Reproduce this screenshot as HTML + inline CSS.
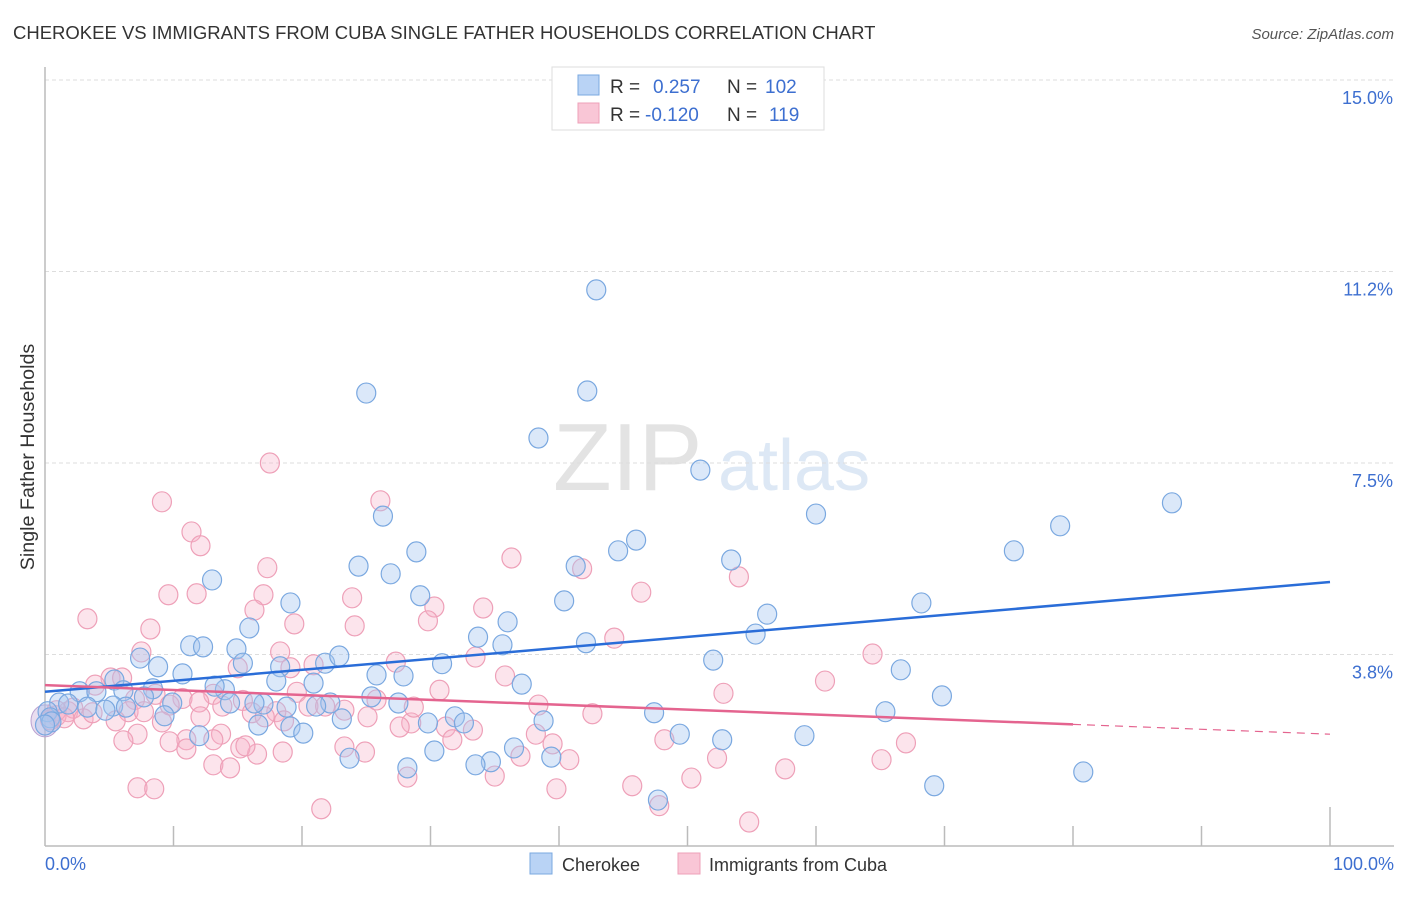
<!DOCTYPE html>
<html><head><meta charset="utf-8"><style>
body{margin:0;background:#fff;font-family:"Liberation Sans",sans-serif;}
svg text{font-family:"Liberation Sans",sans-serif;}
</style></head><body>
<svg width="1406" height="892" viewBox="0 0 1406 892" xmlns="http://www.w3.org/2000/svg">
<text x="13" y="39" font-size="18.5" fill="#333">CHEROKEE VS IMMIGRANTS FROM CUBA SINGLE FATHER HOUSEHOLDS CORRELATION CHART</text>
<text x="1394" y="39" font-size="15" fill="#555" font-style="italic" text-anchor="end">Source: ZipAtlas.com</text>
<g>
<text x="553" y="490" font-size="96" fill="#e3e3e3" font-family="Liberation Serif,serif">ZIP</text>
<text x="718" y="490" font-size="72" fill="#dde8f5">atlas</text>
</g>
<g id="grid"></g>
<g id="axes"></g>
<g id="pts"></g>
<g id="lines"></g>
<text transform="translate(34,457) rotate(-90)" font-size="19.7" fill="#333" text-anchor="middle">Single Father Households</text>
<text x="45" y="870" font-size="18" fill="#3d6fd0">0.0%</text>
<text x="1394" y="870" font-size="18" fill="#3d6fd0" text-anchor="end">100.0%</text>
<g>
<rect x="552" y="67" width="272" height="63" fill="#fff" stroke="#ddd"/>
<rect x="578" y="75" width="21" height="20" fill="#b9d3f5" stroke="#7aa8e0"/>
<rect x="578" y="103" width="21" height="20" fill="#f9c6d6" stroke="#eea0b8"/>
<text x="610" y="93" font-size="19" fill="#333">R = <tspan x="653" fill="#3d6fd0">0.257</tspan><tspan x="727" fill="#333">N = </tspan><tspan x="765" fill="#3d6fd0">102</tspan></text>
<text x="610" y="121" font-size="19" fill="#333">R = <tspan x="645" fill="#3d6fd0">-0.120</tspan><tspan x="727" fill="#333">N = </tspan><tspan x="769" fill="#3d6fd0">119</tspan></text>
</g>
<g>
<rect x="530" y="853" width="22" height="21" fill="#b9d3f5" stroke="#7aa8e0"/>
<text x="562" y="871" font-size="18" fill="#333">Cherokee</text>
<rect x="678" y="853" width="22" height="21" fill="#f9c6d6" stroke="#eea0b8"/>
<text x="709" y="871" font-size="18" fill="#333">Immigrants from Cuba</text>
</g>
</svg>
<script>
const yTicks=[15,11.25,7.5,3.75];
const yTickLabels=["15.0%","11.2%","7.5%","3.8%"];
const xTicks=[10,20,30,40,50,60,70,80,90,100];
const blueX=[42.9,42.2,25.0,38.4,51.0,87.7,60.0,26.3,79.0,28.9,44.6,46.0,53.4,75.4,24.4,26.9,41.3,13.0,29.2,40.4,19.1,56.2,68.2,36.0,15.9,55.3,33.7,35.6,42.1,11.3,12.3,14.9,7.4,8.8,15.4,52.0,30.9,21.8,22.9,18.3,25.8,10.7,27.9,66.6,5.4,18.0,20.9,37.1,69.8,8.4,2.7,4.0,6.1,14.0,9.9,13.2,25.4,27.5,7.7,17.0,16.3,22.2,21.1,18.8,5.3,1.1,1.8,3.3,6.3,14.4,47.4,65.4,9.3,4.7,23.1,29.8,31.9,32.6,38.8,19.1,16.6,20.1,12.0,49.4,52.7,59.1,30.3,39.4,36.5,34.7,33.5,23.7,28.2,80.8,69.2,47.7,0.2,0.4,0.5,0.0];
const blueY=[10.89,8.91,8.87,7.99,7.36,6.72,6.50,6.46,6.27,5.76,5.78,5.99,5.60,5.78,5.48,5.33,5.48,5.21,4.90,4.80,4.76,4.54,4.76,4.39,4.27,4.15,4.09,3.94,3.98,3.92,3.90,3.86,3.68,3.51,3.58,3.64,3.57,3.58,3.72,3.51,3.35,3.37,3.33,3.45,3.25,3.23,3.19,3.17,2.94,3.08,3.02,3.02,3.04,3.06,2.80,3.13,2.92,2.80,2.92,2.78,2.80,2.80,2.74,2.72,2.74,2.80,2.78,2.72,2.72,2.80,2.61,2.63,2.55,2.66,2.49,2.41,2.53,2.41,2.45,2.33,2.37,2.21,2.16,2.19,2.08,2.16,1.86,1.74,1.92,1.65,1.59,1.72,1.53,1.45,1.18,0.90,2.63,2.51,2.43,2.37];
const pinkX=[17.5,9.1,26.1,11.4,12.1,36.3,41.8,17.3,54.0,9.6,11.8,23.9,17.0,46.4,3.3,16.3,30.3,34.1,19.4,29.8,24.1,44.3,8.2,64.4,7.5,18.3,27.3,33.5,35.8,20.9,60.7,15.0,19.1,5.1,6.0,3.9,52.8,30.7,19.6,8.6,13.1,15.4,10.7,7.0,12.0,38.4,6.5,13.8,20.5,23.3,21.8,9.7,16.1,18.0,7.7,1.8,2.2,0.9,3.0,3.7,5.5,28.5,25.1,42.6,18.6,31.2,33.3,27.6,9.1,7.2,11.0,6.1,9.7,13.7,31.7,39.5,48.2,67.0,23.3,24.9,18.5,16.5,13.1,15.2,11.0,15.6,0.9,1.5,0.4,65.1,52.3,40.8,37.0,28.2,35.0,50.3,57.6,13.1,14.4,45.7,39.8,47.8,7.2,8.5,21.5,54.8,38.2,25.8,28.7,17.1,12.1];
const pinkY=[7.50,6.74,6.76,6.15,5.88,5.64,5.43,5.45,5.27,4.92,4.94,4.86,4.92,4.97,4.45,4.62,4.68,4.66,4.35,4.41,4.31,4.07,4.25,3.76,3.80,3.80,3.60,3.70,3.33,3.55,3.23,3.49,3.49,3.29,3.29,3.15,2.99,3.05,3.01,2.97,2.97,2.85,2.89,2.87,2.82,2.76,2.63,2.74,2.74,2.66,2.74,2.76,2.61,2.63,2.63,2.63,2.70,2.55,2.49,2.61,2.45,2.41,2.53,2.59,2.45,2.33,2.27,2.33,2.43,2.19,2.08,2.06,2.04,2.19,2.08,2.00,2.08,2.02,1.94,1.84,1.84,1.80,2.08,1.92,1.90,1.96,2.65,2.51,2.47,1.69,1.72,1.69,1.76,1.35,1.37,1.33,1.51,1.59,1.53,1.18,1.12,0.79,1.14,1.12,0.73,0.47,2.19,2.86,2.72,2.53,2.53];
const blueTrend=[3.02,5.17];
const pinkTrend=[3.15,2.19];
const pinkSolidEnd=80;

const NS="http://www.w3.org/2000/svg";
const X0=45,X1=1330,Y15=80,Y0=846;
function sx(v){return X0+(X1-X0)*v/100;}
function sy(v){return Y0-(Y0-Y15)*v/15;}
function mk(tag,attrs,parent){const e=document.createElementNS(NS,tag);for(const k in attrs)e.setAttribute(k,attrs[k]);parent.appendChild(e);return e;}
const grid=document.getElementById('grid'),axes=document.getElementById('axes'),pts=document.getElementById('pts'),lines=document.getElementById('lines');
yTicks.forEach((t,i)=>{
  const l=mk('line',{x1:X0,x2:1394,y1:sy(t),y2:sy(t),stroke:'#ddd','stroke-dasharray':'4,3'},grid);
  
  
  const tx=mk('text',{x:1393,y:sy(t)+24,'font-size':18,fill:'#3d6fd0','text-anchor':'end'},grid);
  tx.textContent=yTickLabels[i];
  
  
});
let a=mk('line',{x1:X0,x2:X0,y1:67,y2:Y0,stroke:'#bbb','stroke-width':1.5},axes);


a=mk('line',{x1:X0,x2:1394,y1:Y0,y2:Y0,stroke:'#bbb','stroke-width':1.5},axes);


xTicks.forEach(t=>{
  const l=mk('line',{x1:sx(t),x2:sx(t),y1:t===100?807:826,y2:Y0,stroke:'#bbb','stroke-width':1.5},axes);
  
  
});
function dots(xs,ys,fill,stroke,name){
  xs.forEach((x,i)=>{
    const c=mk('ellipse',{cx:sx(x),cy:sy(ys[i]),rx:9.5,ry:10,fill:fill,stroke:stroke,'stroke-width':1.2},pts);
    
    
  });
}
const big=mk('ellipse',{cx:sx(0),cy:sy(2.45),rx:14,ry:16,fill:'rgba(200,170,215,0.4)',stroke:'#b9a0d0'},pts);


dots(pinkX,pinkY,'rgba(246,178,200,0.35)','#eea0b8','cuba-point');
dots(blueX,blueY,'rgba(165,198,240,0.4)','#7aa8e0','cherokee-point');
function lerp(tr,x){return tr[0]+(tr[1]-tr[0])*x/100;}
let t=mk('line',{x1:sx(0),y1:sy(lerp(blueTrend,0)),x2:sx(100),y2:sy(lerp(blueTrend,100)),stroke:'#2a6dd8','stroke-width':2.5},lines);


t=mk('line',{x1:sx(0),y1:sy(lerp(pinkTrend,0)),x2:sx(pinkSolidEnd),y2:sy(lerp(pinkTrend,pinkSolidEnd)),stroke:'#e4648f','stroke-width':2.5},lines);


t=mk('line',{x1:sx(pinkSolidEnd),y1:sy(lerp(pinkTrend,pinkSolidEnd)),x2:sx(100),y2:sy(lerp(pinkTrend,100)),stroke:'#e4648f','stroke-width':1.2,'stroke-dasharray':'8,6'},lines);


</script>
</body></html>
